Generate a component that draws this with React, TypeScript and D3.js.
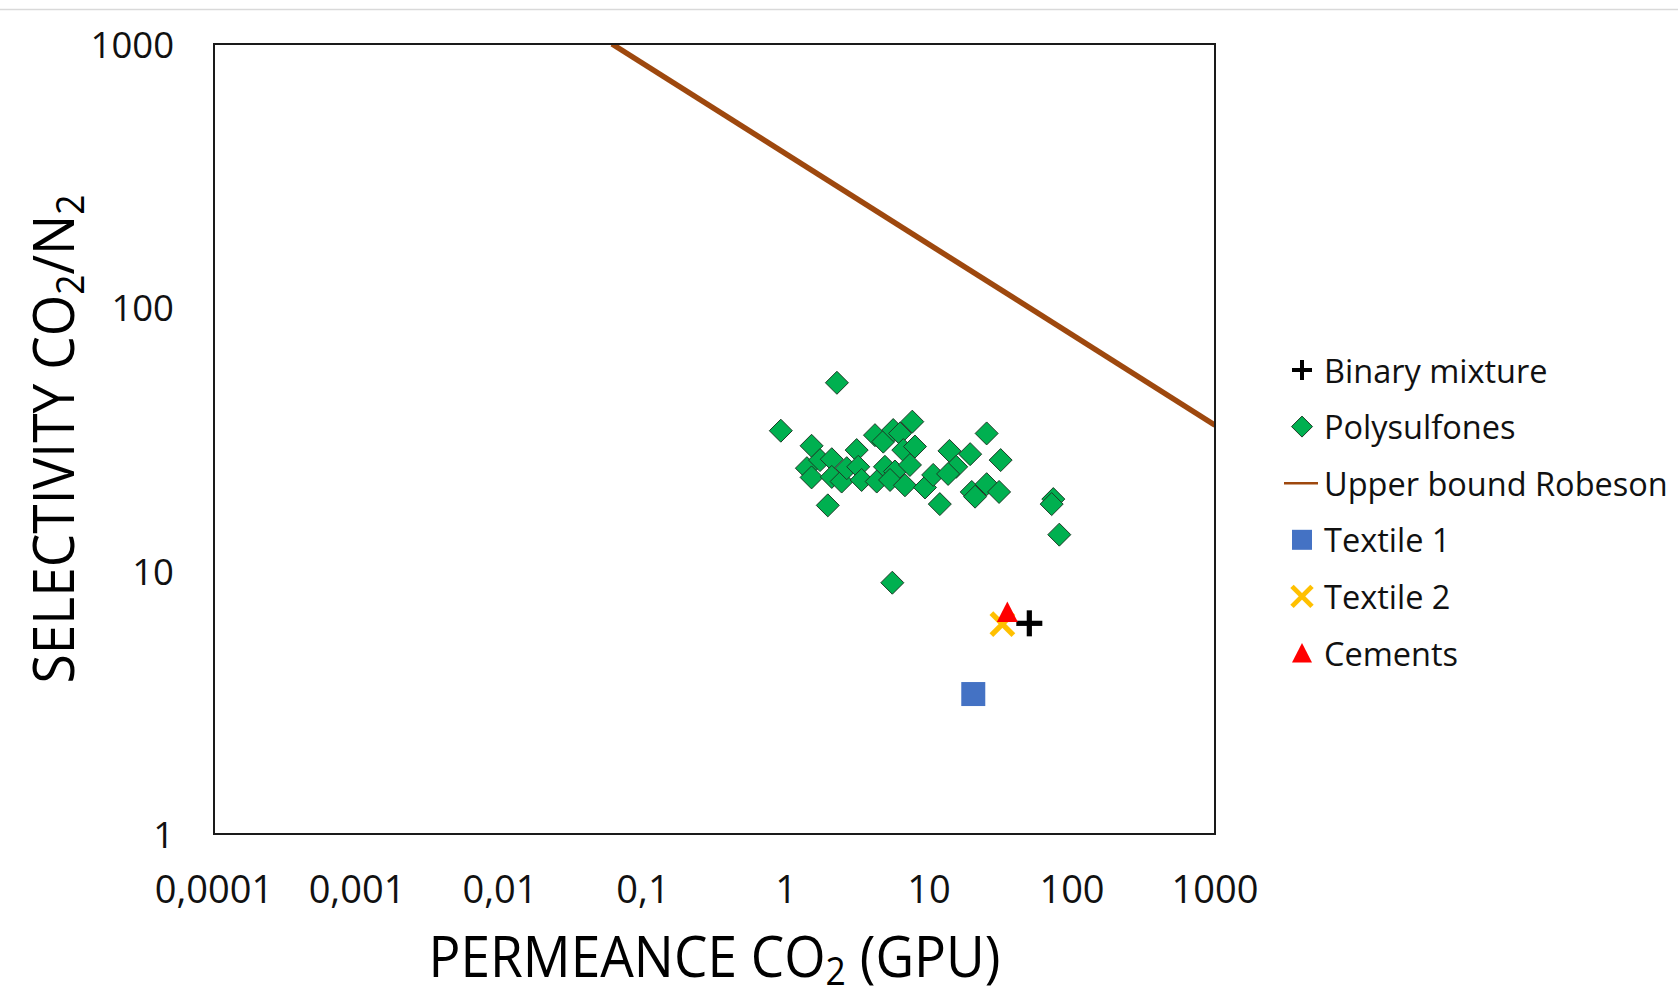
import React from 'react';
import * as d3 from 'd3';

// Polysulfones (GPU, CO2/N2 selectivity)
const polyPerm = [2.27, 0.92, 1.51, 1.4, 1.51, 1.73, 2.09, 2.09, 2.45, 3.12, 2.66, 3.2, 3.38, 4.19, 4.79, 5.62, 6.27, 7.64, 6.61, 7.98, 4.92, 5.78, 4.31, 5.34, 6.79, 7.36, 9.38, 10.7, 1.96, 11.9, 25.3, 19.4, 13.9, 31.7, 15.5, 13.6, 19.9, 21.0, 25.3, 30.9, 74.0, 72.1, 81.5, 5.54];
const polySel = [51.7, 34.0, 29.8, 24.5, 22.6, 26.3, 26.5, 22.7, 21.8, 28.7, 24.5, 24.8, 22.1, 32.7, 30.9, 34.2, 33.2, 36.8, 28.7, 29.6, 24.8, 23.8, 21.8, 22.1, 21.1, 25.2, 20.7, 23.1, 17.7, 17.9, 33.2, 27.7, 28.5, 26.3, 24.8, 23.3, 19.9, 19.1, 21.3, 19.9, 18.7, 17.9, 13.7, 9.0];

const binaryPerm = [50.3];
const binarySel = [6.31];
const textile1Perm = [20.4];
const textile1Sel = [3.4];
const textile2Perm = [32.6];
const textile2Sel = [6.26];
const cementPerm = [35.3];
const cementSel = [6.97];

const robesonPerm = [0.0607, 1000];
const robesonSel = [1000, 35.7];

const xTicks = [0.0001, 0.001, 0.01, 0.1, 1, 10, 100, 1000];
const xTickLabels = ['0,0001', '0,001', '0,01', '0,1', '1', '10', '100', '1000'];
const yTicks = [1, 10, 100, 1000];
const yTickLabels = ['1', '10', '100', '1000'];

const legendLabels = ['Binary mixture', 'Polysulfones', 'Upper bound Robeson', 'Textile 1', 'Textile 2', 'Cements'];

const FONT = '"Open Sans", "Noto Sans", sans-serif';
const GREEN = '#00B050';
const BROWN = '#9E480E';
const BLUE = '#4472C4';
const GOLD = '#FFC000';
const RED = '#FF0000';

const L = 214, R = 1215, T = 44, B = 834;

function diamond(cx: number, cy: number, r: number) {
  return `M${cx},${cy - r}L${cx + r},${cy}L${cx},${cy + r}L${cx - r},${cy}Z`;
}
function triangle(cx: number, cy: number, r: number) {
  return `M${cx},${cy - r}L${cx + r},${cy + r * 0.95}L${cx - r},${cy + r * 0.95}Z`;
}

function Marker({ kind, x, y, s }: { kind: string; x: number; y: number; s: number }) {
  if (kind === 'plus') {
    return (
      <g stroke="#000" strokeWidth={s * 0.2}>
        <line x1={x - s / 2} x2={x + s / 2} y1={y} y2={y} />
        <line x1={x} x2={x} y1={y - s / 2} y2={y + s / 2} />
      </g>
    );
  }
  if (kind === 'diamond') {
    return <path d={diamond(x, y, s / 2)} fill={GREEN} stroke="#1d3b26" strokeWidth={1} />;
  }
  if (kind === 'square') {
    return <rect x={x - s / 2} y={y - s / 2} width={s} height={s} fill={BLUE} />;
  }
  if (kind === 'times') {
    const h = s / 2;
    return (
      <g stroke={GOLD} strokeWidth={s * 0.24}>
        <line x1={x - h} x2={x + h} y1={y - h} y2={y + h} />
        <line x1={x - h} x2={x + h} y1={y + h} y2={y - h} />
      </g>
    );
  }
  if (kind === 'triangle') {
    return <path d={triangle(x, y, s / 2)} fill={RED} />;
  }
  return null;
}

export default function App() {
  const x = d3.scaleLog().domain([0.0001, 1000]).range([L, R]);
  const y = d3.scaleLog().domain([1, 1000]).range([B, T]);

  const robeson = d3.line<number>()
    .x((_, i) => x(robesonPerm[i]))
    .y((_, i) => y(robesonSel[i]))(robesonPerm) || '';

  const legendKinds = ['plus', 'diamond', 'line', 'square', 'times', 'triangle'];
  const legendY = d3.range(legendLabels.length).map(i => 370 + i * 56.6);

  return (
    <svg width={1678} height={987} style={{ position: 'absolute', left: 0, top: 0, background: '#fff' }} fontFamily={FONT}>
      <line x1={0} x2={1678} y1={9.5} y2={9.5} stroke="#d9d9d9" strokeWidth={1.5} />
      <defs>
        <clipPath id="plotClip">
          <rect x={L} y={T} width={R - L} height={B - T} />
        </clipPath>
      </defs>

      <path d={robeson} stroke={BROWN} strokeWidth={5.5} fill="none" clipPath="url(#plotClip)" />

      {polyPerm.map((p, i) => (
        <Marker key={'p' + i} kind="diamond" x={x(p)} y={y(polySel[i])} s={23} />
      ))}
      {binaryPerm.map((p, i) => (
        <Marker key={'b' + i} kind="plus" x={x(p)} y={y(binarySel[i])} s={26} />
      ))}
      {textile1Perm.map((p, i) => (
        <Marker key={'t1' + i} kind="square" x={x(p)} y={y(textile1Sel[i])} s={24} />
      ))}
      {textile2Perm.map((p, i) => (
        <Marker key={'t2' + i} kind="times" x={x(p)} y={y(textile2Sel[i])} s={22} />
      ))}
      {cementPerm.map((p, i) => (
        <Marker key={'c' + i} kind="triangle" x={x(p)} y={y(cementSel[i])} s={21} />
      ))}

      <rect x={L} y={T} width={R - L} height={B - T} fill="none" stroke="#1a1a1a" strokeWidth={2} />

      {yTicks.map((t, i) => (
        <text key={'yt' + i} x={174} y={y(t)} textAnchor="end" dominantBaseline="central" fontSize={36.5} fill="#111">
          {yTickLabels[i]}
        </text>
      ))}
      {xTicks.map((t, i) => (
        <text key={'xt' + i} x={x(t)} y={888} textAnchor="middle" dominantBaseline="central" fontSize={38} fill="#111">
          {xTickLabels[i]}
        </text>
      ))}

      <text x={(L + R) / 2} y={977} textAnchor="middle" fontSize={57} fill="#000" textLength={572} lengthAdjust="spacingAndGlyphs">
        PERMEANCE CO<tspan fontSize={38} dy={8}>2</tspan><tspan dy={-8}> (GPU)</tspan>
      </text>

      <text transform={`translate(74,${(T + B) / 2}) rotate(-90)`} textAnchor="middle" fontSize={57} fill="#000" textLength={489} lengthAdjust="spacingAndGlyphs">
        SELECTIVITY CO<tspan fontSize={38} dy={10}>2</tspan><tspan dy={-10}>/N</tspan><tspan fontSize={38} dy={10}>2</tspan>
      </text>

      {legendLabels.map((lab, i) => (
        <g key={'lg' + i}>
          {legendKinds[i] === 'line' ? (
            <line x1={1284} x2={1318} y1={legendY[i]} y2={legendY[i]} stroke={BROWN} strokeWidth={2.5} />
          ) : (
            <Marker kind={legendKinds[i]} x={1302} y={legendY[i]} s={legendKinds[i] === 'diamond' ? 21 : 20} />
          )}
          <text x={1324} y={legendY[i]} dominantBaseline="central" fontSize={32.5} fill="#111">
            {lab}
          </text>
        </g>
      ))}
    </svg>
  );
}
